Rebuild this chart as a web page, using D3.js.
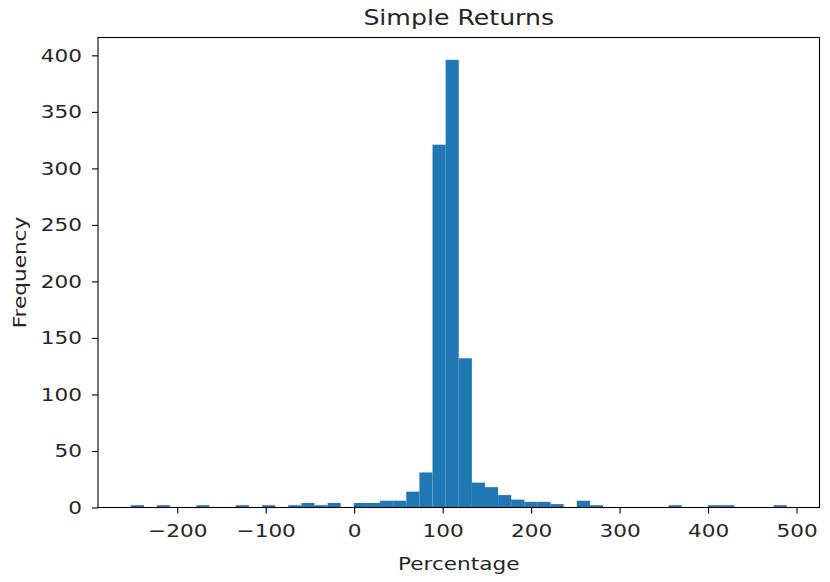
<!DOCTYPE html>
<html>
<head>
<meta charset="utf-8">
<script src="https://cdn.jsdelivr.net/npm/d3@7"></script>
<style>
  body { margin: 0; background: #fff; }
  text { font-family: "DejaVu Sans", sans-serif; fill: #262626; }
</style>
</head>
<body>
<svg id="chart" width="830" height="582"></svg>
<script>
// Histogram data (50 equal-width bins)
const binStart = -252.5;
const binEnd = 488.9;
const counts = [2, 0, 2, 0, 0, 2, 0, 0, 2, 0,
                2, 0, 2, 4, 2, 4, 0, 4, 4, 6,
                6, 14, 31, 321, 396, 132, 22, 18, 11, 7,
                5, 5, 3, 0, 6, 2, 0, 0, 0, 0,
                0, 2, 0, 0, 2, 2, 0, 0, 0, 2];
const xTicks = [-200, -100, 0, 100, 200, 300, 400, 500];
const yTicks = [0, 50, 100, 150, 200, 250, 300, 350, 400];
const titleText = "Simple Returns";
const xLabel = "Percentage";
const yLabel = "Frequency";

const SX = 1.2; // horizontal stretch of glyphs seen in the reference
const margin = {left: 98, right: 10.5, top: 37.5, bottom: 74.5};
const W = 830, H = 582;
const iw = W - margin.left - margin.right;
const ih = H - margin.top - margin.bottom;

const binW = (binEnd - binStart) / counts.length;
const bins = counts.map((c, i) => ({x0: binStart + i * binW, x1: binStart + (i + 1) * binW, n: c}));

const pad = (binEnd - binStart) * 0.05;
const x = d3.scaleLinear().domain([binStart - pad, binEnd + pad]).range([0, iw]);
const y = d3.scaleLinear().domain([0, d3.max(counts) * 1.05]).range([ih, 0]);

const svg = d3.select("#chart");
const g = svg.append("g").attr("transform", `translate(${margin.left},${margin.top})`);

g.selectAll("rect.bar").data(bins.filter(d => d.n > 0)).join("rect")
  .attr("class", "bar")
  .attr("x", d => x(d.x0))
  .attr("width", d => x(d.x1) - x(d.x0))
  .attr("y", d => y(d.n))
  .attr("height", d => y(0) - y(d.n))
  .attr("fill", "#1f77b4");

const fmt = d => (d < 0 ? "\u2212" + Math.abs(d) : "" + d);

const xa = g.append("g").attr("transform", `translate(0,${ih})`)
  .call(d3.axisBottom(x).tickValues(xTicks).tickFormat(fmt).tickSize(6).tickPadding(11));
const ya = g.append("g")
  .call(d3.axisLeft(y).tickValues(yTicks).tickFormat(fmt).tickSize(6).tickPadding(10));

[xa, ya].forEach(a => {
  a.select(".domain").remove();
  a.selectAll("line").attr("stroke", "#000").attr("stroke-width", 1.1);
  a.selectAll("text").attr("font-size", 18).attr("font-family", "DejaVu Sans").attr("fill", "#262626")
    .each(function() {
      const t = d3.select(this);
      const tx = +t.attr("x") || 0, ty = +t.attr("y") || 0;
      t.attr("x", 0).attr("y", 0).attr("transform", `translate(${tx},${ty}) scale(${SX},1)`);
    });
});

// spines
g.append("rect").attr("x", 0).attr("y", 0).attr("width", iw).attr("height", ih)
  .attr("fill", "none").attr("stroke", "#000").attr("stroke-width", 1.1);

svg.append("text").attr("transform", `translate(${margin.left + iw / 2},25) scale(${SX},1)`)
  .attr("text-anchor", "middle").attr("font-size", 21).text(titleText);
svg.append("text").attr("transform", `translate(${margin.left + iw / 2},570) scale(${SX},1)`)
  .attr("text-anchor", "middle").attr("font-size", 18).text(xLabel);
svg.append("text").attr("transform", `translate(26,${margin.top + ih / 2}) rotate(-90) scale(${SX},1)`)
  .attr("text-anchor", "middle").attr("font-size", 18).text(yLabel);
</script>
</body>
</html>
